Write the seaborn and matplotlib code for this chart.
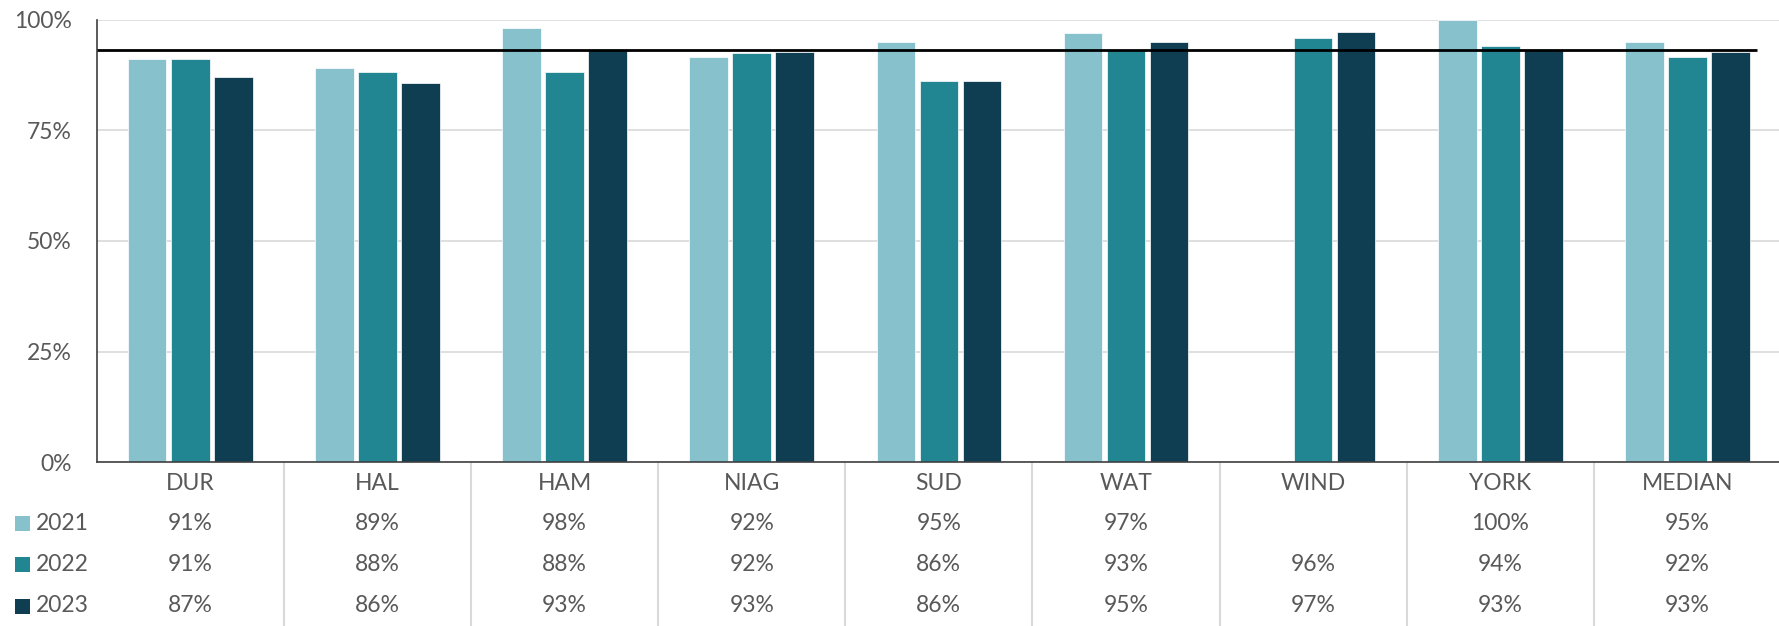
import numpy as np
import pandas as pd
import seaborn as sns
import matplotlib.pyplot as plt
from matplotlib.patches import Rectangle
import matplotlib.transforms as mtransforms

# chart data
categories = ["DUR", "HAL", "HAM", "NIAG", "SUD", "WAT", "WIND", "YORK", "MEDIAN"]
years = ["2021", "2022", "2023"]
v2021 = [91.0, 89.0, 98.0, 91.6, 94.9, 96.9, np.nan, 100.0, 94.9]
v2022 = [91.0, 88.1, 88.1, 92.4, 86.0, 93.1, 95.8, 94.0, 91.6]
v2023 = [87.0, 85.6, 93.1, 92.6, 86.0, 94.9, 97.1, 93.0, 92.6]
target = 93.2
colors = ["#87C1CC", "#218691", "#0F3D52"]
yticks = [0, 25, 50, 75, 100]

series = {"2021": v2021, "2022": v2022, "2023": v2023}
df = pd.DataFrame([
    {"cat": c, "year": y, "value": series[y][i]}
    for y in years for i, c in enumerate(categories)
])

sns.set_style("white")
plt.rcParams['font.family'] = ['Lato', 'DejaVu Sans']
txt = "#595959"

fig = plt.figure(figsize=(17.79, 6.26), dpi=100)
ax = fig.add_axes([96.7 / 1779, 1 - 462.3 / 626, (1781 - 96.7) / 1779, 442.8 / 626])

sns.barplot(data=df, x="cat", y="value", hue="year", hue_order=years,
            order=categories, palette=colors, width=0.69, gap=0.105,
            edgecolor="white", linewidth=0.5, legend=False, ax=ax,
            errorbar=None, saturation=1)

ax.set_xlim(-0.5, len(categories) - 0.5)
ax.set_ylim(0, 100)
ax.set_yticks(yticks)
ax.set_yticklabels([f"{t}%" for t in yticks], fontsize=16.5, color=txt)
ax.tick_params(axis="y", length=0, pad=18)
ax.set_xticks([])
ax.set_xlabel("")
ax.set_ylabel("")
ax.yaxis.grid(True, color="#d9d9d9", linewidth=1.2)
ax.set_axisbelow(True)
for s in ["top", "right"]:
    ax.spines[s].set_visible(False)
ax.spines["left"].set_color("#404040")
ax.spines["bottom"].set_color("#404040")
ax.spines["left"].set_linewidth(1.2)
ax.spines["bottom"].set_linewidth(1.2)

# reference line
ax.hlines(target, -0.5, len(categories) - 1 + 0.37, color="black", linewidth=2, zorder=5)

# data table under the chart
trans = mtransforms.blended_transform_factory(ax.transData, ax.transAxes)
for k in range(len(categories) - 1):
    ax.plot([k + 0.5, k + 0.5], [0, -0.375], transform=trans, color="#d9d9d9",
            linewidth=1.5, clip_on=False)

row_y = [-0.138, -0.231, -0.3245]
for i, c in enumerate(categories):
    ax.text(i, -0.048, c, transform=trans, ha="center", va="center",
            fontsize=16.5, color=txt)
    for r, y in enumerate(years):
        v = series[y][i]
        if not np.isnan(v):
            ax.text(i, row_y[r], f"{v:.0f}%", transform=trans, ha="center",
                    va="center", fontsize=16.5, color=txt)

fig_rows = [1 - 523.5 / 626, 1 - 564.5 / 626, 1 - 606 / 626]
for r, y in enumerate(years):
    fig.patches.append(Rectangle((15 / 1779, fig_rows[r] - 7.5 / 626), 15 / 1779, 15 / 626,
                                 transform=fig.transFigure, facecolor=colors[r],
                                 edgecolor="none"))
    fig.text(36 / 1779, fig_rows[r], y, ha="left", va="center", fontsize=16.5, color=txt)

fig.savefig("out.png", dpi=100)
